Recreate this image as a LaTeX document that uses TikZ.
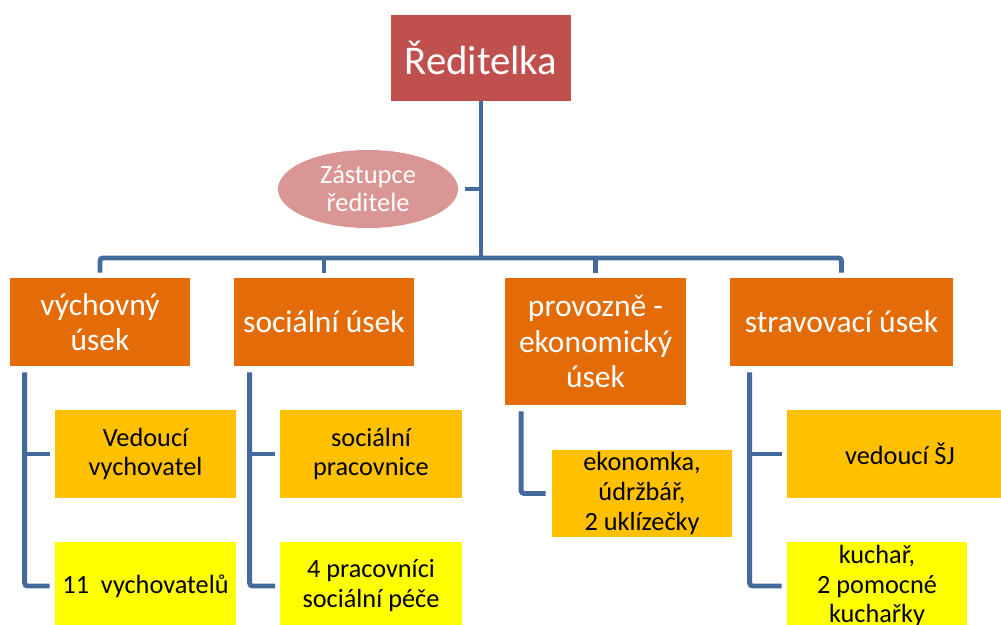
\documentclass[tikz,border=0pt]{standalone}
\usepackage{fontspec}
\setmainfont{Carlito}
\usetikzlibrary{shapes.geometric}
\usetikzlibrary{positioning}
\definecolor{bossred}{RGB}{192,80,77}
\definecolor{deputypink}{RGB}{217,150,148}
\definecolor{unitorange}{RGB}{227,108,9}
\definecolor{staffgold}{RGB}{255,192,0}
\definecolor{staffyellow}{RGB}{255,255,0}
\definecolor{linkblue}{RGB}{68,105,155}
\tikzset{
  boss/.style={rectangle, fill=bossred, text=white, minimum width=4.5cm, minimum height=2.15cm, inner sep=0pt,
    font=\fontsize{29}{32}\selectfont},
  deputy/.style={ellipse, fill=deputypink, text=white, minimum width=4.5cm, minimum height=1.95cm, inner sep=0pt,
    align=center, font=\fontsize{18.8}{20}\selectfont},
  unit/.style={rectangle, fill=unitorange, text=white, minimum width=4.5cm, minimum height=2.2cm, inner sep=0pt,
    align=center, font=\fontsize{22.4}{25}\selectfont},
  head/.style={rectangle, fill=staffgold, minimum width=4.525cm, minimum height=2.2cm, inner sep=0pt,
    align=center, font=\fontsize{18.7}{21.3}\selectfont},
  crew/.style={head, fill=staffyellow},
  link/.style={draw=linkblue, line width=3.5pt, rounded corners=2pt}
  }

\begin{document}
\begin{tikzpicture}[x=0.025cm, y=0.025cm]
	% Frame
	\useasboundingbox (0,0) rectangle (1001,625);
	\clip (0,0) rectangle (1001,625);

	% Nodes
	\node[boss] (boss) at (481,567) {Ředitelka};
	\node[deputy] (deputy) at (368,436) {Zástupce\\ředitele};
	\node[unit] (vych) at (100,303) {výchovný\\úsek};
	\node[unit] (soc) at (324,303) {sociální úsek};
	\node[unit, minimum height=3.175cm] (prov) at (595.5,283.5) {provozně -\\ekonomický\\úsek};
	\node[unit, minimum width=5.575cm] (strav) at (841.5,303) {stravovací úsek};

	\node[head] (vedvych) at (145.5,171) {Vedoucí\\vychovatel};
	\node[crew] (vych11) at (145.5,39) {11\ \ vychovatelů};
	\node[head] (socprac) at (371,171) {sociální\\pracovnice};
	\node[crew] (pece) at (371,39) {4 pracovníci\\sociální péče};
	\node[head, minimum width=4.5cm, minimum height=2.175cm] (ekon) at (642,131.5) {ekonomka,\\údržbář,\\2 uklízečky};
	\node[head, minimum width=5.65cm] (vedsj) at (900,171) {vedoucí ŠJ};
	\node[crew, minimum width=4.5cm] (kuchar) at (877,39) {kuchař,\\2 pomocné\\kuchařky};

	% Lines
	\coordinate (bus) at (boss.south |- 0,367);
	\draw[link] (boss.south) -- (bus);
	\draw[link, shorten <=0.175cm] (deputy.east) -- (deputy.east -| bus);
	\draw[link] ([yshift=0.125cm]vych.north) |- (bus) -| ([yshift=0.125cm]strav.north);
	\draw[link] ([yshift=0.125cm]soc.north) -- (soc.north |- bus);
	\draw[link] ([yshift=0.125cm]prov.north) -- (prov.north |- bus);

	% Lines to staff
	\coordinate (vychL) at ([xshift=0.375cm,yshift=-0.15cm]vych.south west);
	\coordinate (socL) at ([xshift=0.4cm,yshift=-0.15cm]soc.south west);
	\coordinate (provL) at ([xshift=0.4cm,yshift=-0.15cm]prov.south west);
	\coordinate (stravL) at ([xshift=0.5cm,yshift=-0.15cm]strav.south west);
	\draw[link] (vychL) |- ([xshift=-0.125cm]vych11.west);
	\draw[link, shorten <=0.125cm] (vedvych.west) -- (vedvych.west -| vychL);
	\draw[link] (socL) |- ([xshift=-0.125cm]pece.west);
	\draw[link, shorten <=0.125cm] (socprac.west) -- (socprac.west -| socL);
	\draw[link] (provL) |- ([xshift=-0.15cm]ekon.west);
	\draw[link] (stravL) |- ([xshift=-0.125cm]kuchar.west);
	\draw[link, shorten <=0.125cm] (vedsj.west) -- (vedsj.west -| stravL);

\end{tikzpicture}
\end{document}
